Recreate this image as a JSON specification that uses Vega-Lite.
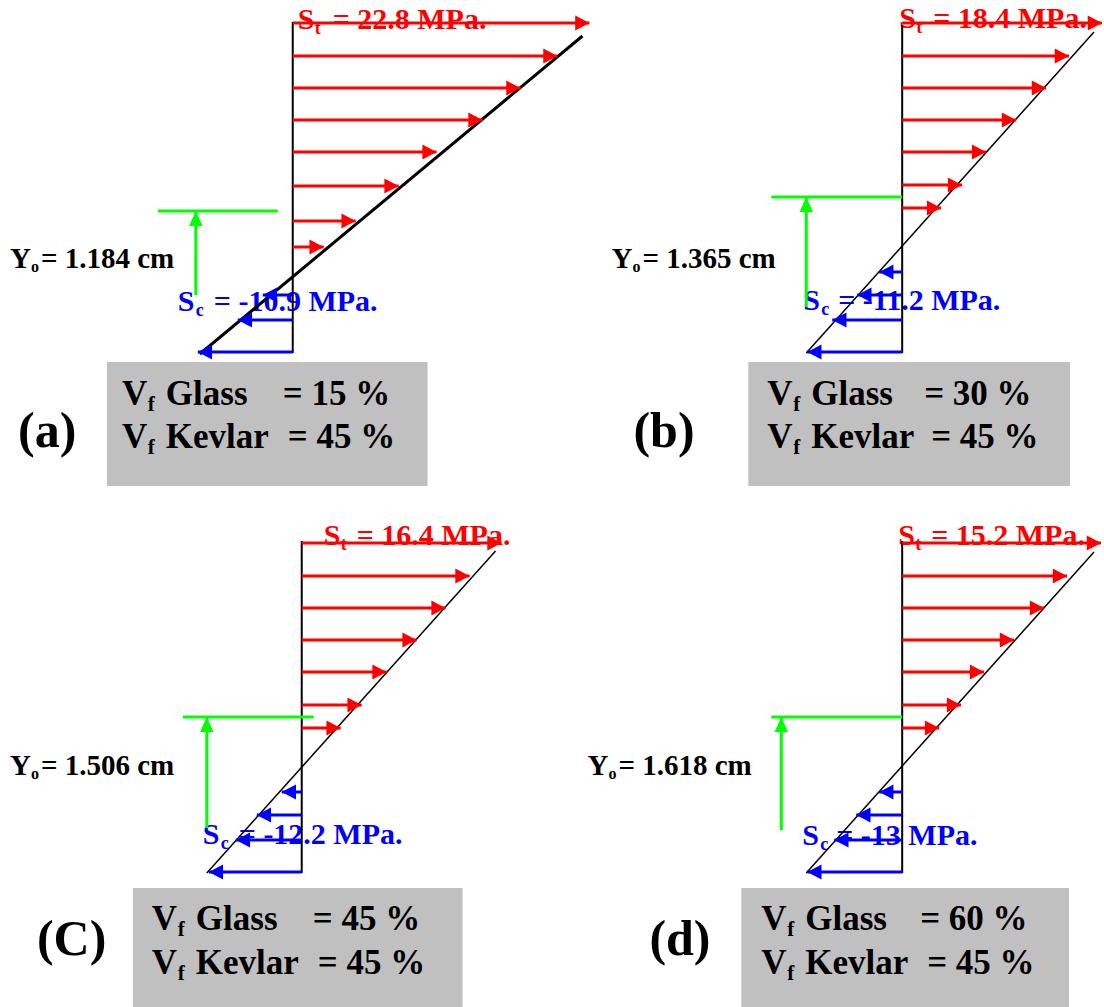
{
  "$schema": "https://vega.github.io/schema/vega-lite/v6.json",
  "width": 1104,
  "height": 1007,
  "padding": 0,
  "autosize": {"type": "fit", "contains": "padding"},
  "background": "white",
  "config": {"view": {"stroke": null}},
  "datasets": {
    "boxes": [
      {"p": "a", "x": 107, "x2": 428, "y": 362, "y2": 486},
      {"p": "b", "x": 749, "x2": 1071, "y": 362, "y2": 486},
      {"p": "c", "x": 133, "x2": 463, "y": 888, "y2": 1007},
      {"p": "d", "x": 742, "x2": 1070, "y": 888, "y2": 1007}
    ],
    "lines": [
      {"p": "a", "el": "beam", "x": 293, "y": 22, "x2": 293, "y2": 353},
      {"p": "b", "el": "beam", "x": 903, "y": 25, "x2": 903, "y2": 353},
      {"p": "c", "el": "beam", "x": 302, "y": 541, "x2": 302, "y2": 873},
      {"p": "d", "el": "beam", "x": 903, "y": 541, "x2": 903, "y2": 873},
      {"p": "a", "el": "profile", "x": 200, "y": 354, "x2": 583, "y2": 36},
      {"p": "b", "el": "profile", "x": 807, "y": 353, "x2": 1095, "y2": 32},
      {"p": "c", "el": "profile", "x": 207, "y": 873, "x2": 496, "y2": 551},
      {"p": "d", "el": "profile", "x": 807, "y": 873, "x2": 1095, "y2": 552},

      {"p": "a", "el": "tension", "x": 293, "y": 23, "x2": 590, "y2": 23},
      {"p": "a", "el": "tension", "x": 293, "y": 56, "x2": 558, "y2": 56},
      {"p": "a", "el": "tension", "x": 293, "y": 88, "x2": 521, "y2": 88},
      {"p": "a", "el": "tension", "x": 293, "y": 120, "x2": 483, "y2": 120},
      {"p": "a", "el": "tension", "x": 293, "y": 152, "x2": 437, "y2": 152},
      {"p": "a", "el": "tension", "x": 293, "y": 186, "x2": 399, "y2": 186},
      {"p": "a", "el": "tension", "x": 293, "y": 221, "x2": 356, "y2": 221},
      {"p": "a", "el": "tension", "x": 293, "y": 247, "x2": 324, "y2": 247},
      {"p": "b", "el": "tension", "x": 903, "y": 23, "x2": 1103, "y2": 23},
      {"p": "b", "el": "tension", "x": 903, "y": 56, "x2": 1070, "y2": 56},
      {"p": "b", "el": "tension", "x": 903, "y": 88, "x2": 1047, "y2": 88},
      {"p": "b", "el": "tension", "x": 903, "y": 120, "x2": 1017, "y2": 120},
      {"p": "b", "el": "tension", "x": 903, "y": 152, "x2": 987, "y2": 152},
      {"p": "b", "el": "tension", "x": 903, "y": 185, "x2": 963, "y2": 185},
      {"p": "b", "el": "tension", "x": 903, "y": 208, "x2": 942, "y2": 208},
      {"p": "c", "el": "tension", "x": 302, "y": 543, "x2": 502, "y2": 543},
      {"p": "c", "el": "tension", "x": 302, "y": 576, "x2": 470, "y2": 576},
      {"p": "c", "el": "tension", "x": 302, "y": 608, "x2": 446, "y2": 608},
      {"p": "c", "el": "tension", "x": 302, "y": 640, "x2": 417, "y2": 640},
      {"p": "c", "el": "tension", "x": 302, "y": 672, "x2": 387, "y2": 672},
      {"p": "c", "el": "tension", "x": 302, "y": 705, "x2": 362, "y2": 705},
      {"p": "c", "el": "tension", "x": 302, "y": 728, "x2": 341, "y2": 728},
      {"p": "d", "el": "tension", "x": 903, "y": 543, "x2": 1102, "y2": 543},
      {"p": "d", "el": "tension", "x": 903, "y": 576, "x2": 1068, "y2": 576},
      {"p": "d", "el": "tension", "x": 903, "y": 608, "x2": 1045, "y2": 608},
      {"p": "d", "el": "tension", "x": 903, "y": 640, "x2": 1015, "y2": 640},
      {"p": "d", "el": "tension", "x": 903, "y": 672, "x2": 985, "y2": 672},
      {"p": "d", "el": "tension", "x": 903, "y": 705, "x2": 962, "y2": 705},
      {"p": "d", "el": "tension", "x": 903, "y": 728, "x2": 940, "y2": 728},

      {"p": "a", "el": "compression", "x": 293, "y": 295, "x2": 263, "y2": 295},
      {"p": "a", "el": "compression", "x": 293, "y": 320, "x2": 238, "y2": 320},
      {"p": "a", "el": "compression", "x": 293, "y": 352, "x2": 198, "y2": 352},
      {"p": "b", "el": "compression", "x": 903, "y": 272, "x2": 880, "y2": 272},
      {"p": "b", "el": "compression", "x": 903, "y": 295, "x2": 858, "y2": 295},
      {"p": "b", "el": "compression", "x": 903, "y": 320, "x2": 833, "y2": 320},
      {"p": "b", "el": "compression", "x": 903, "y": 352, "x2": 808, "y2": 352},
      {"p": "c", "el": "compression", "x": 302, "y": 792, "x2": 282, "y2": 792},
      {"p": "c", "el": "compression", "x": 302, "y": 815, "x2": 257, "y2": 815},
      {"p": "c", "el": "compression", "x": 302, "y": 840, "x2": 236, "y2": 840},
      {"p": "c", "el": "compression", "x": 302, "y": 872, "x2": 209, "y2": 872},
      {"p": "d", "el": "compression", "x": 903, "y": 792, "x2": 880, "y2": 792},
      {"p": "d", "el": "compression", "x": 903, "y": 815, "x2": 857, "y2": 815},
      {"p": "d", "el": "compression", "x": 903, "y": 840, "x2": 835, "y2": 840},
      {"p": "d", "el": "compression", "x": 903, "y": 872, "x2": 808, "y2": 872},

      {"p": "a", "el": "neutral axis", "x": 158, "y": 211, "x2": 278, "y2": 211},
      {"p": "b", "el": "neutral axis", "x": 772, "y": 197, "x2": 903, "y2": 197},
      {"p": "c", "el": "neutral axis", "x": 183, "y": 717, "x2": 314, "y2": 717},
      {"p": "d", "el": "neutral axis", "x": 772, "y": 717, "x2": 903, "y2": 717},
      {"p": "a", "el": "yo arrow", "x": 196, "y": 295, "x2": 196, "y2": 211},
      {"p": "b", "el": "yo arrow", "x": 807, "y": 307, "x2": 807, "y2": 197},
      {"p": "c", "el": "yo arrow", "x": 207, "y": 828, "x2": 207, "y2": 717},
      {"p": "d", "el": "yo arrow", "x": 782, "y": 830, "x2": 782, "y2": 717}
    ],
    "texts": [
      {"p": "a", "role": "label", "t": "(a)", "x": 18, "y": 447},
      {"p": "a", "role": "box", "t": "V", "x": 122, "y": 405},
      {"p": "a", "role": "boxsub", "t": "f", "x": 148, "y": 411},
      {"p": "a", "role": "box", "t": "Glass", "x": 166, "y": 405},
      {"p": "a", "role": "box", "t": "= 15 %", "x": 283, "y": 405},
      {"p": "a", "role": "box", "t": "V", "x": 122, "y": 448},
      {"p": "a", "role": "boxsub", "t": "f", "x": 148, "y": 454},
      {"p": "a", "role": "box", "t": "Kevlar", "x": 166, "y": 448},
      {"p": "a", "role": "box", "t": "= 45 %", "x": 288, "y": 448},
      {"p": "a", "role": "yo", "t": "Y", "x": 10, "y": 268},
      {"p": "a", "role": "yosub", "t": "o", "x": 31, "y": 272},
      {"p": "a", "role": "yo", "t": "= 1.184 cm", "x": 41, "y": 268},
      {"p": "a", "role": "st", "t": "S", "x": 298, "y": 29},
      {"p": "a", "role": "stsub", "t": "t", "x": 315, "y": 34},
      {"p": "a", "role": "st", "t": "= 22.8 MPa.", "x": 333, "y": 29},
      {"p": "a", "role": "sc", "t": "S", "x": 178, "y": 311},
      {"p": "a", "role": "scsub", "t": "c", "x": 196, "y": 316},
      {"p": "a", "role": "sc", "t": "= -10.9 MPa.", "x": 214, "y": 311},

      {"p": "b", "role": "label", "t": "(b)", "x": 634, "y": 447},
      {"p": "b", "role": "box", "t": "V", "x": 768, "y": 405},
      {"p": "b", "role": "boxsub", "t": "f", "x": 794, "y": 411},
      {"p": "b", "role": "box", "t": "Glass", "x": 812, "y": 405},
      {"p": "b", "role": "box", "t": "= 30 %", "x": 925, "y": 405},
      {"p": "b", "role": "box", "t": "V", "x": 768, "y": 448},
      {"p": "b", "role": "boxsub", "t": "f", "x": 794, "y": 454},
      {"p": "b", "role": "box", "t": "Kevlar", "x": 812, "y": 448},
      {"p": "b", "role": "box", "t": "= 45 %", "x": 932, "y": 448},
      {"p": "b", "role": "yo", "t": "Y", "x": 612, "y": 268},
      {"p": "b", "role": "yosub", "t": "o", "x": 633, "y": 272},
      {"p": "b", "role": "yo", "t": "= 1.365 cm", "x": 643, "y": 268},
      {"p": "b", "role": "st", "t": "S", "x": 900, "y": 28},
      {"p": "b", "role": "stsub", "t": "t", "x": 917, "y": 33},
      {"p": "b", "role": "st", "t": "= 18.4 MPa.", "x": 934, "y": 28},
      {"p": "b", "role": "sc", "t": "S", "x": 804, "y": 310},
      {"p": "b", "role": "scsub", "t": "c", "x": 822, "y": 315},
      {"p": "b", "role": "sc", "t": "= -11.2 MPa.", "x": 839, "y": 310},

      {"p": "c", "role": "label", "t": "(C)", "x": 37, "y": 955},
      {"p": "c", "role": "box", "t": "V", "x": 152, "y": 930},
      {"p": "c", "role": "boxsub", "t": "f", "x": 178, "y": 936},
      {"p": "c", "role": "box", "t": "Glass", "x": 196, "y": 930},
      {"p": "c", "role": "box", "t": "= 45 %", "x": 313, "y": 930},
      {"p": "c", "role": "box", "t": "V", "x": 152, "y": 974},
      {"p": "c", "role": "boxsub", "t": "f", "x": 178, "y": 980},
      {"p": "c", "role": "box", "t": "Kevlar", "x": 196, "y": 974},
      {"p": "c", "role": "box", "t": "= 45 %", "x": 318, "y": 974},
      {"p": "c", "role": "yo", "t": "Y", "x": 10, "y": 775},
      {"p": "c", "role": "yosub", "t": "o", "x": 31, "y": 779},
      {"p": "c", "role": "yo", "t": "= 1.506 cm", "x": 41, "y": 775},
      {"p": "c", "role": "st", "t": "S", "x": 324, "y": 545},
      {"p": "c", "role": "stsub", "t": "t", "x": 341, "y": 550},
      {"p": "c", "role": "st", "t": "= 16.4 MPa.", "x": 357, "y": 545},
      {"p": "c", "role": "sc", "t": "S", "x": 203, "y": 844},
      {"p": "c", "role": "scsub", "t": "c", "x": 221, "y": 849},
      {"p": "c", "role": "sc", "t": "= -12.2 MPa.", "x": 239, "y": 844},

      {"p": "d", "role": "label", "t": "(d)", "x": 650, "y": 955},
      {"p": "d", "role": "box", "t": "V", "x": 762, "y": 930},
      {"p": "d", "role": "boxsub", "t": "f", "x": 788, "y": 936},
      {"p": "d", "role": "box", "t": "Glass", "x": 806, "y": 930},
      {"p": "d", "role": "box", "t": "= 60 %", "x": 921, "y": 930},
      {"p": "d", "role": "box", "t": "V", "x": 762, "y": 974},
      {"p": "d", "role": "boxsub", "t": "f", "x": 788, "y": 980},
      {"p": "d", "role": "box", "t": "Kevlar", "x": 806, "y": 974},
      {"p": "d", "role": "box", "t": "= 45 %", "x": 928, "y": 974},
      {"p": "d", "role": "yo", "t": "Y", "x": 588, "y": 775},
      {"p": "d", "role": "yosub", "t": "o", "x": 609, "y": 779},
      {"p": "d", "role": "yo", "t": "= 1.618 cm", "x": 619, "y": 775},
      {"p": "d", "role": "st", "t": "S", "x": 899, "y": 545},
      {"p": "d", "role": "stsub", "t": "t", "x": 916, "y": 550},
      {"p": "d", "role": "st", "t": "= 15.2 MPa.", "x": 932, "y": 545},
      {"p": "d", "role": "sc", "t": "S", "x": 803, "y": 845},
      {"p": "d", "role": "scsub", "t": "c", "x": 821, "y": 850},
      {"p": "d", "role": "sc", "t": "= -13 MPa.", "x": 837, "y": 845}
    ]
  },
  "layer": [
    {
      "data": {"name": "boxes"},
      "mark": {"type": "rect", "color": "#c0c0c0"},
      "encoding": {
        "x": {"field": "x", "type": "quantitative", "scale": {"domain": [0, 1104], "nice": false, "zero": false}, "axis": null},
        "x2": {"field": "x2"},
        "y": {"field": "y", "type": "quantitative", "scale": {"domain": [0, 1007], "nice": false, "zero": false, "reverse": true}, "axis": null},
        "y2": {"field": "y2"}
      }
    },
    {
      "data": {"name": "texts"},
      "mark": {"type": "text", "font": "Liberation Serif", "fontWeight": "bold", "align": "left", "baseline": "alphabetic"},
      "encoding": {
        "x": {"field": "x", "type": "quantitative"},
        "y": {"field": "y", "type": "quantitative"},
        "text": {"field": "t"},
        "color": {
          "field": "role", "type": "nominal", "legend": null,
          "scale": {
            "domain": ["label", "box", "boxsub", "yo", "yosub", "st", "stsub", "sc", "scsub"],
            "range": ["#000000", "#000000", "#000000", "#000000", "#000000", "#ff0000", "#ff0000", "#0000ff", "#0000ff"]
          }
        },
        "size": {
          "field": "role", "type": "ordinal", "legend": null,
          "scale": {
            "type": "ordinal",
            "domain": ["label", "box", "boxsub", "yo", "yosub", "st", "stsub", "sc", "scsub"],
            "range": [50, 35, 21, 29, 16, 30, 18, 30, 18]
          }
        }
      }
    },
    {
      "data": {"name": "lines"},
      "mark": {"type": "rule"},
      "encoding": {
        "x": {"field": "x", "type": "quantitative"},
        "y": {"field": "y", "type": "quantitative"},
        "x2": {"field": "x2"},
        "y2": {"field": "y2"},
        "color": {
          "field": "el", "type": "nominal", "legend": null,
          "scale": {
            "domain": ["beam", "profile", "tension", "compression", "neutral axis", "yo arrow"],
            "range": ["#000000", "#000000", "#ff0000", "#0000ff", "#00ff00", "#00ff00"]
          }
        },
        "strokeWidth": {
          "condition": {"test": "datum.p === 'a' && datum.el === 'profile'", "value": 3},
          "field": "el", "type": "nominal", "legend": null,
          "scale": {
            "type": "ordinal",
            "domain": ["beam", "profile", "tension", "compression", "neutral axis", "yo arrow"],
            "range": [2, 1.5, 3, 3, 3, 3]
          }
        }
      }
    },
    {
      "data": {"name": "lines"},
      "transform": [{"filter": {"field": "el", "oneOf": ["tension", "compression", "yo arrow"]}}],
      "mark": {"type": "point", "filled": true, "size": 225, "opacity": 1, "strokeWidth": 0},
      "encoding": {
        "x": {"field": "x2", "type": "quantitative"},
        "y": {"field": "y2", "type": "quantitative"},
        "shape": {
          "field": "el", "type": "nominal", "legend": null,
          "scale": {
            "domain": ["tension", "compression", "yo arrow"],
            "range": ["M0,0L-1.9,-1L-1.9,1Z", "M0,0L1.9,-1L1.9,1Z", "M0,0L-0.9,2L0.9,2Z"]
          }
        },
        "color": {
          "field": "el", "type": "nominal", "legend": null,
          "scale": {
            "domain": ["tension", "compression", "yo arrow"],
            "range": ["#ff0000", "#0000ff", "#00ff00"]
          }
        }
      }
    }
  ],
  "resolve": {"scale": {"color": "independent", "size": "independent", "shape": "independent", "strokeWidth": "independent"}}
}
